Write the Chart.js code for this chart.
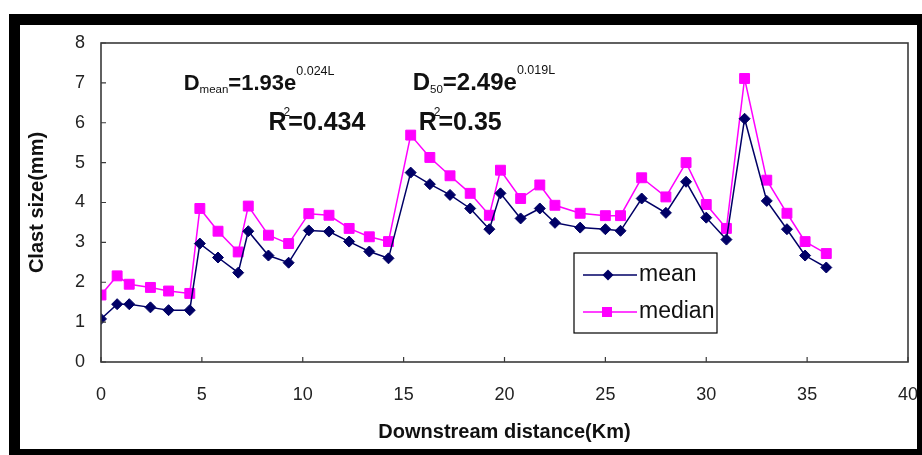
<!DOCTYPE html>
<html><head><meta charset="utf-8">
<script src="https://cdn.jsdelivr.net/npm/chart.js@4.4.1/dist/chart.umd.min.js"></script>
<style>
html,body{margin:0;padding:0;background:#fff;width:922px;height:455px;overflow:hidden;}
#wrap{position:absolute;left:0;top:0;width:922px;height:455px;}
#frame{position:absolute;left:9px;top:14px;width:913px;height:441px;box-sizing:border-box;border-style:solid;border-color:#000;border-width:11px 5px 6px 11px;pointer-events:none;}
</style></head><body>
<div id="wrap"><canvas id="c"></canvas></div>
<div id="frame"></div>
<script>
// Downstream distance (km) of each sample site
const distanceKm = [0, 0.8, 1.4, 2.45, 3.35, 4.4, 4.9, 5.8, 6.8, 7.3, 8.3, 9.3, 10.3, 11.3, 12.3, 13.3, 14.25,
  15.35, 16.3, 17.3, 18.3, 19.25, 19.8, 20.8, 21.75, 22.5, 23.75, 25, 25.75, 26.8, 28, 29, 30, 31, 31.9, 33, 34, 34.9, 35.95];
// Mean clast size (mm)
const meanSize = [1.08, 1.45, 1.45, 1.37, 1.3, 1.3, 2.97, 2.62, 2.24, 3.28, 2.67, 2.49, 3.3, 3.27, 3.02, 2.77, 2.6,
  4.75, 4.46, 4.19, 3.85, 3.33, 4.23, 3.6, 3.85, 3.49, 3.37, 3.33, 3.29, 4.1, 3.74, 4.52, 3.62, 3.07, 6.1, 4.04, 3.33, 2.67, 2.37];
// Median clast size (mm)
const medianSize = [1.68, 2.16, 1.95, 1.87, 1.78, 1.72, 3.85, 3.28, 2.76, 3.91, 3.18, 2.97, 3.72, 3.68, 3.35, 3.14, 3.02,
  5.69, 5.13, 4.67, 4.23, 3.68, 4.81, 4.1, 4.44, 3.93, 3.73, 3.67, 3.67, 4.62, 4.14, 5.0, 3.95, 3.35, 7.11, 4.56, 3.73, 3.02, 2.72];
const seriesNames = ['mean', 'median'];
const xTickValues = [0, 5, 10, 15, 20, 25, 30, 35, 40];
const yTickValues = [0, 1, 2, 3, 4, 5, 6, 7, 8];
const xTitle = 'Downstream distance(Km)';
const yTitle = 'Clast size(mm)';

const NAVY = '#000066', MAG = '#FF00FF', AXIS = '#3a3a3a';
const SANS = "'Liberation Sans', Arial, sans-serif";

function diamond(ctx, x, y, r, color) {
  ctx.save(); ctx.fillStyle = color; ctx.beginPath();
  ctx.moveTo(x, y - r); ctx.lineTo(x + r, y); ctx.lineTo(x, y + r); ctx.lineTo(x - r, y); ctx.closePath(); ctx.fill(); ctx.restore();
}
function square(ctx, x, y, h, color) {
  ctx.save(); ctx.fillStyle = color; ctx.fillRect(x - h, y - h, 2 * h, 2 * h); ctx.restore();
}
function runs(ctx, x, y, parts) {
  for (const p of parts) {
    ctx.font = p.f;
    ctx.fillText(p.t, x + (p.dx || 0), y + (p.dy || 0));
    x += ctx.measureText(p.t).width + (p.dx || 0) + (p.after || 0);
  }
}

const decor = {
  id: 'decor',
  afterDraw(chart) {
    const ctx = chart.ctx, a = chart.chartArea;
    const xs = chart.scales.x, ys = chart.scales.y;
    ctx.save();
    // plot frame
    ctx.strokeStyle = AXIS; ctx.lineWidth = 1.6;
    ctx.strokeRect(a.left, a.top, a.right - a.left, a.bottom - a.top);
    // inside tick marks
    ctx.lineWidth = 1.2;
    ctx.beginPath();
    for (const v of xTickValues) { const px = xs.getPixelForValue(v); ctx.moveTo(px, a.bottom); ctx.lineTo(px, a.bottom - 5); }
    for (const v of yTickValues) { const py = ys.getPixelForValue(v); ctx.moveTo(a.left, py); ctx.lineTo(a.left + 5, py); }
    ctx.stroke();

    // regression annotations
    ctx.fillStyle = '#111'; ctx.textBaseline = 'alphabetic'; ctx.textAlign = 'left';
    const B1 = 'bold 22px ' + SANS, B3 = 'bold 24px ' + SANS, BR = 'bold 25px ' + SANS;
    const SUB = '11.5px ' + SANS, SUP = '12.5px ' + SANS, SQ = '12px ' + SANS;
    const yl1 = ys.getPixelForValue(6.82), yl2 = ys.getPixelForValue(5.82);
    runs(ctx, xs.getPixelForValue(4.1), yl1, [{t: 'D', f: B1}, {t: 'mean', f: SUB, dy: 3}, {t: '=1.93e', f: B1}, {t: '0.024L', f: SUP, dy: -15}]);
    runs(ctx, xs.getPixelForValue(8.3), yl2, [{t: 'R', f: BR, after: -3}, {t: '2', f: SQ, dy: -14, after: -2}, {t: '=0.434', f: BR}]);
    runs(ctx, xs.getPixelForValue(15.45), yl1, [{t: 'D', f: B3}, {t: '50', f: SUB, dy: 3}, {t: '=2.49e', f: B3}, {t: '0.019L', f: SUP, dy: -16}]);
    runs(ctx, xs.getPixelForValue(15.75), yl2, [{t: 'R', f: BR, after: -3}, {t: '2', f: SQ, dy: -14, after: -2}, {t: '=0.35', f: BR}]);

    // legend box
    const lx = 574, ly = 253, lw = 143, lh = 80;
    ctx.fillStyle = '#fff'; ctx.fillRect(lx, ly, lw, lh);
    ctx.strokeStyle = '#000'; ctx.lineWidth = 1.2; ctx.strokeRect(lx, ly, lw, lh);
    const ds = chart.data.datasets;
    const rows = [ly + 22, ly + 59];
    ds.forEach((d, i) => {
      const yy = rows[i];
      ctx.strokeStyle = d.borderColor; ctx.lineWidth = 1.5;
      ctx.beginPath(); ctx.moveTo(lx + 9, yy); ctx.lineTo(lx + 63, yy); ctx.stroke();
      if (i === 0) diamond(ctx, lx + 34, yy, 5.5, d.pointBackgroundColor);
      else square(ctx, lx + 33, yy, 5, d.pointBackgroundColor);
      ctx.fillStyle = '#111'; ctx.font = '23px ' + SANS; ctx.textBaseline = 'middle';
      ctx.fillText(d.label, lx + 65, yy);
    });
    ctx.restore();
  }
};

const chart = new Chart(document.getElementById('c'), {
  type: 'line',
  data: {
    datasets: [
      { label: seriesNames[0], data: distanceKm.map((x, i) => ({x, y: meanSize[i]})),
        borderColor: NAVY, backgroundColor: NAVY, pointBackgroundColor: NAVY, pointBorderColor: NAVY,
        pointStyle: 'rectRot', pointRadius: 5.5, pointBorderWidth: 1, borderWidth: 1.5, tension: 0 },
      { label: seriesNames[1], data: distanceKm.map((x, i) => ({x, y: medianSize[i]})),
        borderColor: MAG, backgroundColor: MAG, pointBackgroundColor: MAG, pointBorderColor: MAG,
        pointStyle: 'rect', pointRadius: 7, pointBorderWidth: 1, borderWidth: 1.5, tension: 0 }
    ]
  },
  options: {
    responsive: true, maintainAspectRatio: false, animation: false,
    layout: { padding: { top: 43, right: 14, left: 0, bottom: 0 } },
    plugins: { legend: { display: false }, tooltip: { enabled: false } },
    scales: {
      x: {
        type: 'linear', min: 0, max: 40,
        afterBuildTicks: s => { s.ticks = xTickValues.map(v => ({value: v})); },
        afterFit: s => { s.height = 93; s.paddingRight = 0; s.paddingLeft = 0; },
        grid: { display: false, drawTicks: false }, border: { display: false },
        ticks: { color: '#222', font: { family: SANS, size: 18 }, padding: 22, maxRotation: 0, autoSkip: false },
        title: { display: true, text: xTitle, color: '#111', font: { family: SANS, size: 20, weight: 'bold' }, padding: { bottom: 11, top: 0 } }
      },
      y: {
        min: 0, max: 8,
        afterBuildTicks: s => { s.ticks = yTickValues.map(v => ({value: v})); },
        afterFit: s => { s.width = 101; s.paddingTop = 0; s.paddingBottom = 0; },
        grid: { display: false, drawTicks: false }, border: { display: false },
        ticks: { color: '#222', font: { family: SANS, size: 18 }, padding: 16 },
        title: { display: true, text: yTitle, color: '#111', font: { family: SANS, size: 20, weight: 'bold' }, padding: { top: 25, bottom: 0 } }
      }
    }
  },
  plugins: [decor]
});
</script>
</body></html>
